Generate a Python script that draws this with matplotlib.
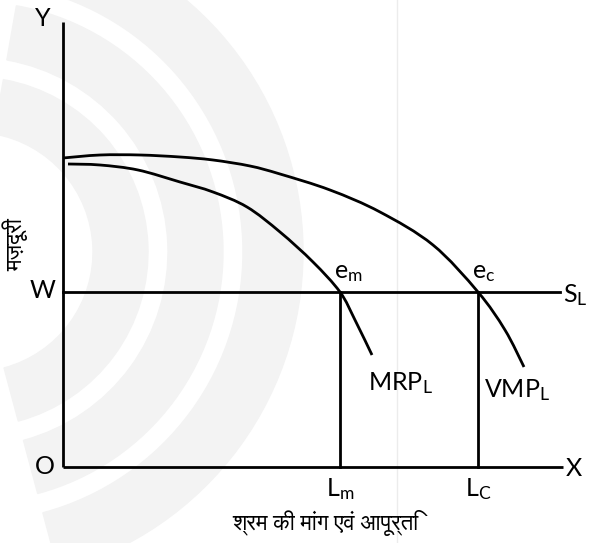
import matplotlib
matplotlib.use("Agg")
import matplotlib.pyplot as plt
from matplotlib import font_manager
from matplotlib.patches import Wedge, PathPatch
from matplotlib.path import Path

# ==============================
# DATA (labour on x, wage on y)
# ==============================

wage_w = 175
labour_m = 277
labour_c = 415

vmp_labour = [0, 37, 77, 117, 150, 187, 217, 267, 317, 370, 415, 442, 461]
vmp_wage = [309, 312, 312, 310, 307, 301, 293, 277, 255, 222, 175, 137, 100]

mrp_labour = [5, 37, 75, 117, 150, 184, 217, 250, 277, 292, 309]
mrp_wage = [303, 302, 297, 285, 275, 260, 235, 205, 175, 147, 112]

x_axis_end = 500
y_axis_end = 445
supply_end = 497

y_title = "मज़दूरी"
x_title = "श्रम की मांग एवं आपूर्ति"

# ==============================
# FONTS
# ==============================

plt.rcParams["font.family"] = ["Lato", "DejaVu Sans"]
plt.rcParams["mathtext.fontset"] = "custom"
plt.rcParams["mathtext.rm"] = "Lato"
plt.rcParams["mathtext.it"] = "Lato:italic"

hindi_family = ["DejaVu Sans"]
for f in font_manager.fontManager.ttflist:
    if any(k in f.name for k in ("Devanagari", "Lohit", "Mukta", "Hind", "Mangal", "FreeSans", "Gargi")):
        hindi_family = [f.name, "DejaVu Sans"]
        break


def smooth_path(xs, ys):
    # catmull-rom through the read points, drawn as bezier segments
    pts = list(zip(xs, ys))
    verts = [pts[0]]
    codes = [Path.MOVETO]
    n = len(pts)
    for i in range(n - 1):
        p0 = pts[max(i - 1, 0)]
        p1 = pts[i]
        p2 = pts[i + 1]
        p3 = pts[min(i + 2, n - 1)]
        c1 = (p1[0] + (p2[0] - p0[0]) / 6, p1[1] + (p2[1] - p0[1]) / 6)
        c2 = (p2[0] - (p3[0] - p1[0]) / 6, p2[1] - (p3[1] - p1[1]) / 6)
        verts += [c1, c2, p2]
        codes += [Path.CURVE4] * 3
    return Path(verts, codes)


# ==============================
# FIGURE
# ==============================

fig = plt.figure(figsize=(6.15, 5.43), dpi=100)
ax = fig.add_axes([0, 0, 1, 1])
ax.set_xlim(-63, 552)
ax.set_ylim(-76, 467)
ax.axis("off")

# faint watermark
wm = "#f3f3f3"
for r0, r1 in [(120, 175), (195, 250), (270, 330)]:
    ax.add_patch(Wedge((-90, 215), r1, -75, 80, width=r1 - r0, color=wm, zorder=0))
ax.plot([334, 334], [-76, 467], color="#ececec", lw=1, zorder=0)

lw = 2.0
ax.plot([0, 0], [0, y_axis_end], color="black", lw=lw, solid_capstyle="butt")
ax.plot([0, x_axis_end], [0, 0], color="black", lw=lw, solid_capstyle="butt")
ax.plot([0, supply_end], [wage_w, wage_w], color="black", lw=lw)
ax.plot([labour_m, labour_m], [0, wage_w], color="black", lw=lw)
ax.plot([labour_c, labour_c], [0, wage_w], color="black", lw=lw)

ax.add_patch(PathPatch(smooth_path(vmp_labour, vmp_wage), fill=False, ec="black", lw=lw))
ax.add_patch(PathPatch(smooth_path(mrp_labour, mrp_wage), fill=False, ec="black", lw=lw))

fs = 18
ax.text(-12, y_axis_end + 4, "Y", fontsize=fs, ha="right", va="center")
ax.text(-8, wage_w + 2, "W", fontsize=fs, ha="right", va="center")
ax.text(-8, 0, "O", fontsize=fs, ha="right", va="center")
ax.text(x_axis_end + 3, -2, "X", fontsize=fs, ha="left", va="center")
ax.text(supply_end + 3, wage_w - 3, r"S$_\mathrm{L}$", fontsize=fs, ha="left", va="center")

ax.text(labour_m, -22, r"L$_\mathrm{m}$", fontsize=fs, ha="center", va="center")
ax.text(labour_c, -22, r"L$_\mathrm{C}$", fontsize=fs, ha="center", va="center")
ax.text(labour_m - 6, wage_w + 20, r"e$_\mathrm{m}$", fontsize=fs, ha="left", va="center")
ax.text(labour_c - 6, wage_w + 20, r"e$_\mathrm{c}$", fontsize=fs, ha="left", va="center")
ax.text(337, 84, r"MRP$_\mathrm{L}$", fontsize=fs, ha="center", va="center")
ax.text(454, 77, r"VMP$_\mathrm{L}$", fontsize=fs, ha="center", va="center")

ax.text(-48, 222, y_title, fontsize=16, rotation=90, ha="center", va="center", family=hindi_family)
ax.text(262, -56, x_title, fontsize=16, ha="center", va="center", family=hindi_family)

fig.savefig("out.png", dpi=100)
